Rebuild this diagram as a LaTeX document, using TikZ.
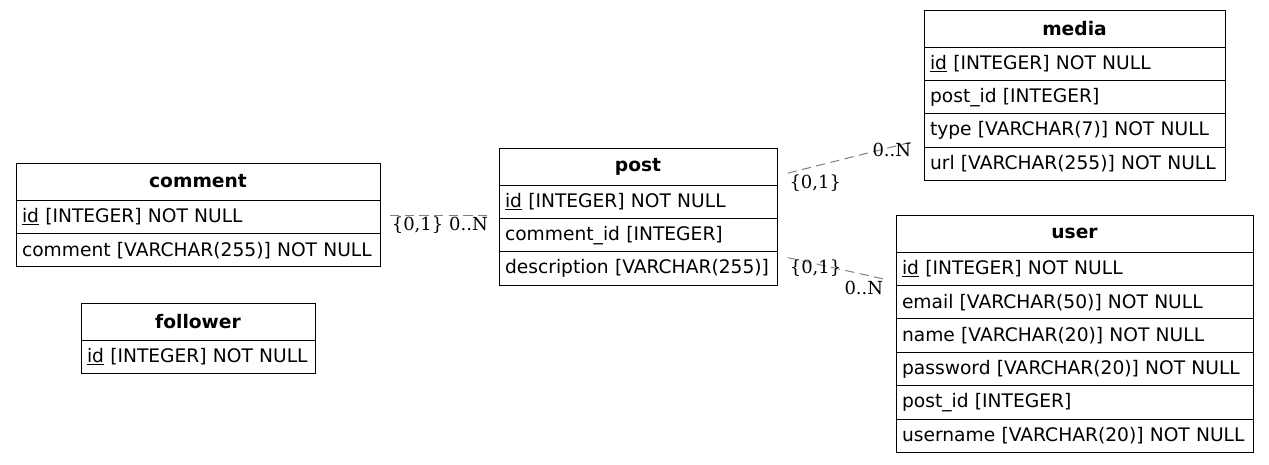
\documentclass[tikz,border=0pt]{standalone}
\usepackage{fontspec}
\setmainfont{DejaVu Sans}
\newfontfamily\lblfont{DejaVu Serif}
\usetikzlibrary{positioning}

\begin{document}
\begin{tikzpicture}[x=0.75pt,y=-0.75pt]
\tikzstyle{fld}=[draw, line width=0.75pt, outer sep=0pt, inner xsep=4.5pt, inner ysep=0pt, align=left, minimum height=25.1pt, font=\fontsize{14pt}{16pt}\selectfont]
\tikzstyle{hdr}=[fld, align=center, minimum height=27.75pt, font=\fontsize{14pt}{16pt}\selectfont\bfseries]
\tikzstyle{rel}=[draw=gray, line width=0.75pt, dash pattern=on 7pt off 4pt]
\tikzstyle{card}=[inner sep=1pt, font=\lblfont\fontsize{13.5pt}{15pt}\selectfont]
\useasboundingbox (0,0) rectangle (1269,464);
% comment
\node[hdr, text width=264pt, anchor=north west] (cmt) at (16,163) {comment};
\node[fld, text width=264pt, below=0pt of cmt] (cmt-id) {\underline{id} [INTEGER] NOT NULL};
\node[fld, text width=264pt, below=0pt of cmt-id] (cmt-txt) {comment [VARCHAR(255)] NOT NULL};
% follower
\node[hdr, text width=166.5pt, anchor=north west] (flw) at (81,303) {follower};
\node[fld, text width=166.5pt, below=0pt of flw] (flw-id) {\underline{id} [INTEGER] NOT NULL};
% post
\node[hdr, text width=199.5pt, anchor=north west] (pst) at (499,148) {post};
\node[fld, text width=199.5pt, below=0pt of pst] (pst-id) {\underline{id} [INTEGER] NOT NULL};
\node[fld, text width=199.5pt, below=0pt of pst-id] (pst-cid) {comment\_id [INTEGER]};
\node[fld, text width=199.5pt, below=0pt of pst-cid] (pst-dsc) {description [VARCHAR(255)]};
% media
\node[hdr, text width=216.75pt, anchor=north west] (med) at (924,10) {media};
\node[fld, text width=216.75pt, below=0pt of med] (med-id) {\underline{id} [INTEGER] NOT NULL};
\node[fld, text width=216.75pt, below=0pt of med-id] (med-pid) {post\_id [INTEGER]};
\node[fld, text width=216.75pt, below=0pt of med-pid] (med-typ) {type [VARCHAR(7)] NOT NULL};
\node[fld, text width=216.75pt, below=0pt of med-typ] (med-url) {url [VARCHAR(255)] NOT NULL};
% user
\node[hdr, text width=258.75pt, anchor=north west] (usr) at (896,215) {user};
\node[fld, text width=258.75pt, below=0pt of usr] (usr-id) {\underline{id} [INTEGER] NOT NULL};
\node[fld, text width=258.75pt, below=0pt of usr-id] (usr-eml) {email [VARCHAR(50)] NOT NULL};
\node[fld, text width=258.75pt, below=0pt of usr-eml] (usr-nam) {name [VARCHAR(20)] NOT NULL};
\node[fld, text width=258.75pt, below=0pt of usr-nam] (usr-pwd) {password [VARCHAR(20)] NOT NULL};
\node[fld, text width=258.75pt, below=0pt of usr-pwd] (usr-pid) {post\_id [INTEGER]};
\node[fld, text width=258.75pt, below=0pt of usr-pid] (usr-unm) {username [VARCHAR(20)] NOT NULL};
% relations
\coordinate (cp) at ([yshift=1.3pt]cmt-id.east -| pst-id.west);
\draw[rel] ([xshift=7.5pt,yshift=1.3pt]cmt-id.east) -- ([xshift=-7pt]cp)
  node[card, pos=0, anchor=north west] (cmt-c1) {\{0,1\}}
  node[card, pos=1, anchor=north east] (cmt-cn) {0..N};
\draw[rel] ([shift={(8pt,-5pt)}]pst.east) -- ([shift={(-8.25pt,-8.25pt)}]med-typ.west)
  node[card, pos=0, anchor=north west] (med-c1) {\{0,1\}}
  node[card, pos=1, anchor=north east] (med-cn) {0..N};
\draw[rel] ([shift={(8.25pt,8.25pt)}]pst-dsc.east) -- ([shift={(-8.25pt,-7.9pt)}]usr-id.west)
  node[card, pos=0, anchor=north west] (usr-c1) {\{0,1\}}
  node[card, pos=1, anchor=north east] (usr-cn) {0..N};
\end{tikzpicture}
\end{document}
